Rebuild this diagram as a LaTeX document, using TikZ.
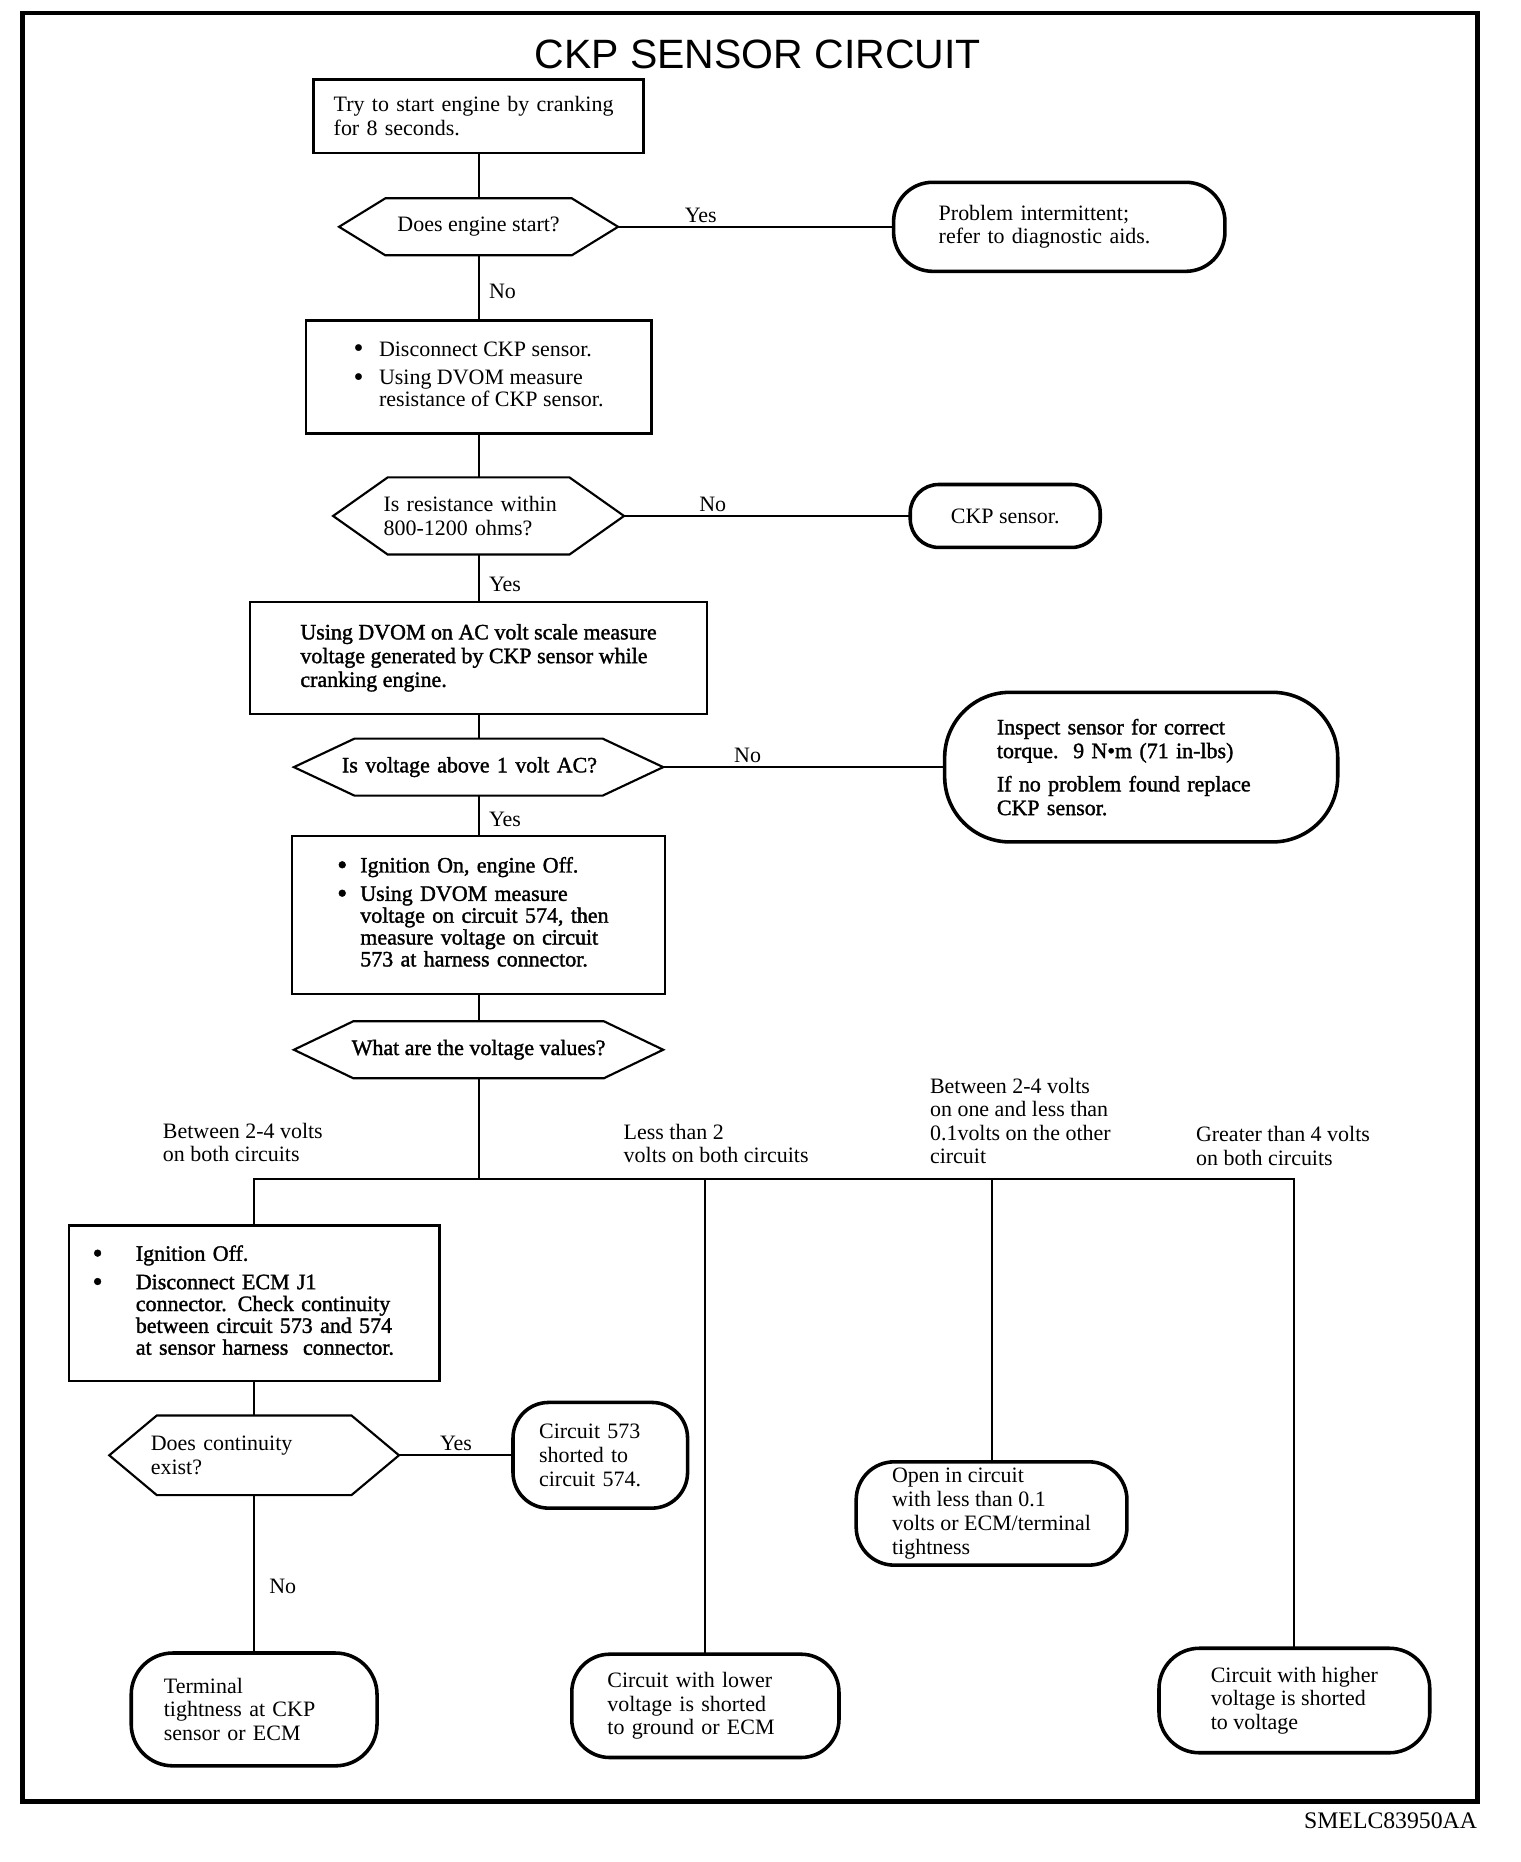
\documentclass[tikz,border=0pt]{standalone}
\usepackage{fontspec}
\setmainfont{Liberation Serif}
\newfontfamily\titlefont{Liberation Sans}
\newfontfamily\darkfont{Liberation Serif}[FakeBold=1.5]
\usetikzlibrary{positioning}
\newcommand{\chartfont}{\fontsize{18.5}{20}\selectfont}
\newcommand{\darkchart}{\darkfont\fontsize{18.5}{20}\selectfont}
\newcommand{\dotmark}{\raisebox{-1.5pt}{\fontsize{24}{20}\selectfont\textbullet}}
\tikzstyle{action_box} = [rectangle, draw=black, line width=2pt, outer sep=0pt, align=left, inner sep=0pt, font=\chartfont]
\tikzstyle{result_end} = [rectangle, rounded corners=33pt, draw=black, line width=3pt, outer sep=0pt, align=left, inner sep=0pt, font=\chartfont]
\tikzstyle{question} = [rectangle, outer sep=0pt, align=left, inner sep=0pt, font=\chartfont]
\tikzstyle{question_edge} = [line width=1.8pt, line join=miter]
\tikzstyle{flow_line} = [line width=1.6pt]
\tikzstyle{flow_label} = [font=\chartfont, inner sep=0pt]
\tikzstyle{branch_label} = [anchor=west, align=left, inner sep=0pt, font=\fontsize{18.5}{19.5}\selectfont]
\begin{document}
\begin{tikzpicture}[x=1pt, y=-1pt]
\useasboundingbox (0,0) rectangle (1280,1568);
\draw [line width=4pt] (19,11) rectangle (1244,1517);
\node (title) at (638,46) [font=\titlefont\fontsize{34.5}{40}\selectfont, inner sep=0pt] {CKP SENSOR CIRCUIT};

% Hauptstrang
\node (crank) [action_box, minimum width=278pt, minimum height=62pt, text width=244pt] at (403,98) {Try to start engine by cranking\\for 8 seconds.};
\node (starts) [question, minimum width=235pt, minimum height=48pt, below=38pt of crank] {Does engine start?};
\node (intermittent) [result_end, minimum width=279pt, minimum height=75pt, text width=203pt, right=232pt of starts] {Problem intermittent;\\refer to diagnostic aids.};
\node (disconnect) [action_box, minimum width=291pt, minimum height=95pt, below=55pt of starts] {\def\arraystretch{0.92}\begin{tabular}{@{}l@{\hspace{13pt}}l@{}}\dotmark & Disconnect CKP sensor.\\[5.5pt] \dotmark & Using DVOM measure\\ & resistance of CKP sensor.\end{tabular}};
\node (resistance) [question, minimum width=245pt, minimum height=65pt, text width=160pt, below=37pt of disconnect] {Is resistance within\\800-1200 ohms?};
\node (sensor) [result_end, rounded corners=24pt, minimum width=160pt, minimum height=53pt, right=241pt of resistance] {CKP sensor.};
\node (acvolts) [action_box, minimum width=385pt, minimum height=94pt, font=\darkchart, below=40pt of resistance] {Using DVOM on AC volt scale measure\\voltage generated by CKP sensor while\\cranking engine.};
\node (voltage) [question, minimum width=311pt, minimum height=48pt, text width=230pt, font=\darkchart, below=21pt of acvolts] {Is voltage above 1 volt AC?};
\node (inspect) [result_end, rounded corners=55pt, minimum width=331pt, minimum height=126pt, text width=243pt, font=\darkchart, right=237pt of voltage] {Inspect sensor for correct\\torque.~~9 N•m (71 in-lbs)\\[8pt]If no problem found replace\\CKP sensor.};
\node (ignition) [action_box, minimum width=314pt, minimum height=133pt, text width=238pt, font=\darkchart, below=34pt of voltage] {\def\arraystretch{0.92}\begin{tabular}{@{}l@{\hspace{11pt}}l@{}}\dotmark & Ignition On, engine Off.\\[5.5pt] \dotmark & Using DVOM measure\\ & voltage on circuit 574, then\\ & measure voltage on circuit\\ & 573 at harness connector.\end{tabular}};
\node (values) [question, minimum width=311pt, minimum height=48pt, font=\darkchart, below=23pt of ignition] {What are the voltage values?};
\coordinate (bus) at ([yshift=-85pt]values.south);

% Verzweigung nach Spannungswerten
\node (both_mid) [branch_label] at (137,962) {Between 2-4 volts\\on both circuits};
\node (both_low) [branch_label] at (525,963) {Less than 2\\volts on both circuits};
\node (one_low) [branch_label] at (783,944) {Between 2-4 volts\\on one and less than\\0.1volts on the other\\circuit};
\node (both_high) [branch_label] at (1007,965) {Greater than 4 volts\\on both circuits};

\node (ecm) [action_box, minimum width=312pt, minimum height=131pt, text width=272pt, font=\darkchart] at (214,1097.5) {\def\arraystretch{0.92}\begin{tabular}{@{}l@{\hspace{28pt}}l@{}}\dotmark & Ignition Off.\\[5.5pt] \dotmark & Disconnect ECM J1\\ & connector. Check continuity\\ & between circuit 573 and 574\\ & at sensor harness\ \ connector.\end{tabular}};
\node (continuity) [question, minimum width=244pt, minimum height=67pt, text width=174pt, below=29pt of ecm] {Does continuity\\exist?};
\node (shorted) [result_end, rounded corners=30pt, minimum width=147pt, minimum height=89pt, text width=103pt, right=96pt of continuity] {Circuit 573\\shorted to\\circuit 574.};
\node (terminal) [result_end, rounded corners=35pt, minimum width=207pt, minimum height=95pt, text width=152pt, below=133pt of continuity] {Terminal\\tightness at CKP\\sensor or ECM};
\node (lower) [result_end, rounded corners=32pt, minimum width=225pt, minimum height=87pt, text width=165pt] at (594,1436.5) {Circuit with lower\\voltage is shorted\\to ground or ECM};
\node (open) [result_end, rounded corners=32pt, minimum width=228pt, minimum height=87pt] at (835,1274.5) {Open in circuit\\with less than 0.1\\volts or ECM/terminal\\tightness};
\node (higher) [result_end, rounded corners=34pt, minimum width=228pt, minimum height=88pt] at (1090,1432) {Circuit with higher\\voltage is shorted\\to voltage};

\node (code) [anchor=east, inner sep=0pt, font=\fontsize{20}{24}\selectfont] at (1244,1533) {SMELC83950AA};

% Sechseck-Umrisse der Abfragen
\draw [question_edge] (starts.west) -- ([xshift=39pt]starts.north west) -- ([xshift=-39pt]starts.north east) -- (starts.east) -- ([xshift=-39pt]starts.south east) -- ([xshift=39pt]starts.south west) -- cycle;
\draw [question_edge] (resistance.west) -- ([xshift=46pt]resistance.north west) -- ([xshift=-46pt]resistance.north east) -- (resistance.east) -- ([xshift=-46pt]resistance.south east) -- ([xshift=46pt]resistance.south west) -- cycle;
\draw [question_edge] (voltage.west) -- ([xshift=51pt]voltage.north west) -- ([xshift=-51pt]voltage.north east) -- (voltage.east) -- ([xshift=-51pt]voltage.south east) -- ([xshift=51pt]voltage.south west) -- cycle;
\draw [question_edge] (values.west) -- ([xshift=50pt]values.north west) -- ([xshift=-50pt]values.north east) -- (values.east) -- ([xshift=-50pt]values.south east) -- ([xshift=50pt]values.south west) -- cycle;
\draw [question_edge] (continuity.west) -- ([xshift=40pt]continuity.north west) -- ([xshift=-40pt]continuity.north east) -- (continuity.east) -- ([xshift=-40pt]continuity.south east) -- ([xshift=40pt]continuity.south west) -- cycle;

% Verbindungen mit Ja/Nein
\draw [flow_line] (crank) -- (starts);
\draw [flow_line] (starts) -- node[flow_label, above=3pt, pos=0.3] {Yes} (intermittent);
\draw [flow_line] (starts) -- node[flow_label, right=8pt, pos=0.56] {No} (disconnect);
\draw [flow_line] (disconnect) -- (resistance);
\draw [flow_line] (resistance) -- node[flow_label, above=3pt, pos=0.31] {No} (sensor);
\draw [flow_line] (resistance) -- node[flow_label, right=8pt, pos=0.62] {Yes} (acvolts);
\draw [flow_line] (acvolts) -- (voltage);
\draw [flow_line] (voltage) -- node[flow_label, above=3pt, pos=0.3] {No} (inspect);
\draw [flow_line] (voltage) -- node[flow_label, right=8pt, pos=0.59] {Yes} (ignition);
\draw [flow_line] (ignition) -- (values);
\draw [flow_line] (values) -- (bus);
\draw [flow_line] (ecm.north) |- (bus) -| (higher.north);
\draw [flow_line] (lower.north) -- (lower.north |- bus);
\draw [flow_line] (open.north) -- (open.north |- bus);
\draw [flow_line] (ecm) -- (continuity);
\draw [flow_line] (continuity) -- node[flow_label, above=3pt, pos=0.5] {Yes} (shorted);
\draw [flow_line] (continuity) -- node[flow_label, right=12pt, pos=0.58] {No} (terminal);
\end{tikzpicture}
\end{document}
